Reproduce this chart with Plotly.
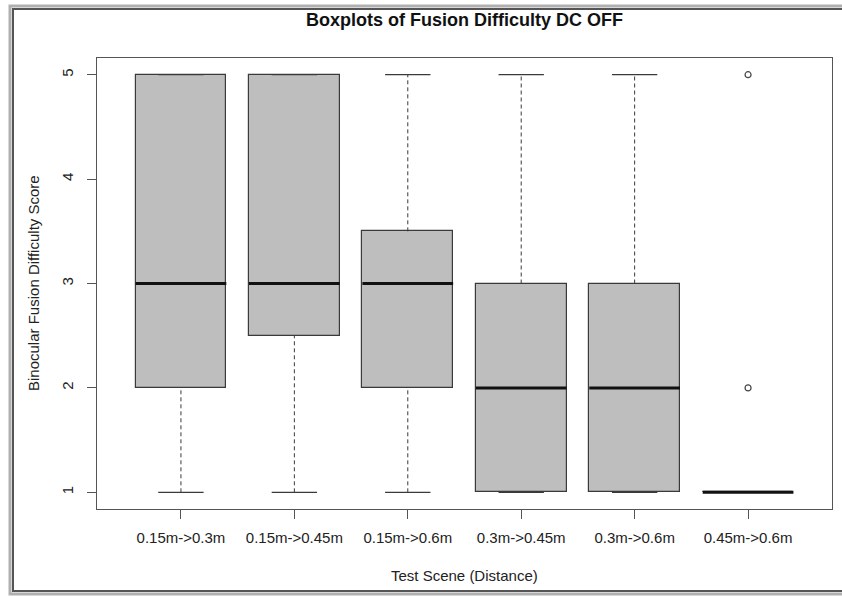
import plotly.graph_objects as go

# ---- data ----
categories = ["0.15m->0.3m", "0.15m->0.45m", "0.15m->0.6m", "0.3m->0.45m", "0.3m->0.6m", "0.45m->0.6m"]
mins = [1, 1, 1, 1, 1, 1]
q1s = [2, 2.5, 2, 1, 1, 1]
medians = [3, 3, 3, 2, 2, 1]
q3s = [5, 5, 3.5, 3, 3, 1]
maxs = [5, 5, 5, 5, 5, 1]
outlier_x = [6, 6]
outlier_y = [2, 5]

title = "Boxplots of Fusion Difficulty DC OFF"
x_title = "Test Scene (Distance)"
y_title = "Binocular Fusion Difficulty Score"

FONT = "Liberation Sans, Arial, sans-serif"
BOXW = 0.8
CAPW = 0.4
EDGE = "#3a3a3a"

xs = list(range(1, len(categories) + 1))
fig = go.Figure()

# boxes
fig.add_trace(go.Bar(
    x=xs, y=[b - a for a, b in zip(q1s, q3s)], base=q1s, width=BOXW,
    marker=dict(color="#bebebe", line=dict(color=EDGE, width=1.2)),
    showlegend=False, hoverinfo="skip"))

# whiskers (dashed) and caps
wx, wy, cx, cy = [], [], [], []
for x, lo, a, b, hi in zip(xs, mins, q1s, q3s, maxs):
    if hi > b:
        wx += [x, x, None]; wy += [b, hi, None]
    if lo < a:
        wx += [x, x, None]; wy += [lo, a, None]
    if hi > b or lo < a:
        cx += [x - CAPW / 2, x + CAPW / 2, None, x - CAPW / 2, x + CAPW / 2, None]
        cy += [hi, hi, None, lo, lo, None]
fig.add_trace(go.Scatter(x=wx, y=wy, mode="lines",
                         line=dict(color=EDGE, width=1, dash="4px,3px"),
                         showlegend=False, hoverinfo="skip"))
fig.add_trace(go.Scatter(x=cx, y=cy, mode="lines",
                         line=dict(color=EDGE, width=1.2),
                         showlegend=False, hoverinfo="skip"))

# medians
mx, my = [], []
for x, m in zip(xs, medians):
    mx += [x - BOXW / 2, x + BOXW / 2, None]
    my += [m, m, None]
fig.add_trace(go.Scatter(x=mx, y=my, mode="lines",
                         line=dict(color="#111111", width=3),
                         showlegend=False, hoverinfo="skip"))

# outliers
fig.add_trace(go.Scatter(x=outlier_x, y=outlier_y, mode="markers",
                         marker=dict(symbol="circle-open", size=6,
                                     color="#444444", line=dict(width=1.2)),
                         showlegend=False, hoverinfo="skip"))

L, R, T, B = 97, 10, 58, 88
W, H = 842, 597
pw, ph = W - L - R, H - T - B


def px_x(p):
    return (p - L) / pw


def px_y(p):
    return (H - B - p) / ph


fig.update_layout(
    width=W, height=H,
    margin=dict(l=L, r=R, t=T, b=B),
    paper_bgcolor="white", plot_bgcolor="white",
    font=dict(family=FONT, color="#222222", size=15),
    title=dict(text="<b>" + title + "</b>", x=px_x(464.5), xref="paper",
               xanchor="center", y=1 - 20 / H, yanchor="middle",
               font=dict(size=18, color="#111111")),
    bargap=0,
    shapes=[
        dict(type="rect", xref="paper", yref="paper",
             x0=px_x(10), x1=px_x(880), y0=px_y(594), y1=px_y(6),
             line=dict(color="#b0b0b0", width=3)),
        dict(type="rect", xref="paper", yref="paper",
             x0=px_x(13), x1=px_x(877), y0=px_y(591), y1=px_y(9),
             line=dict(color="#555555", width=2)),
    ],
    annotations=[
        dict(text=x_title, xref="paper", yref="paper", x=px_x(464.5), y=px_y(575),
             xanchor="center", yanchor="middle", showarrow=False,
             font=dict(size=15, color="#222222")),
        dict(text=y_title, xref="paper", yref="paper", x=px_x(33), y=px_y(283),
             xanchor="center", yanchor="middle", showarrow=False, textangle=-90,
             font=dict(size=15, color="#222222")),
    ],
)

fig.update_xaxes(
    range=[0.26, 6.74], tickmode="array", tickvals=xs, ticktext=categories,
    showgrid=False, zeroline=False, showline=True, mirror=True,
    linecolor="#555555", linewidth=1.2, ticks="outside", ticklen=9,
    tickcolor="#555555", ticklabelstandoff=6,
    tickfont=dict(size=15, color="#222222"))
fig.update_yaxes(
    range=[0.84, 5.16], tickmode="array", tickvals=[1, 2, 3, 4, 5],
    showgrid=False, zeroline=False, showline=True, mirror=True,
    linecolor="#555555", linewidth=1.2, ticks="outside", ticklen=9,
    tickcolor="#555555", tickangle=-90, ticklabelstandoff=8,
    tickfont=dict(size=15, color="#222222"))

fig.write_html("out.html")
